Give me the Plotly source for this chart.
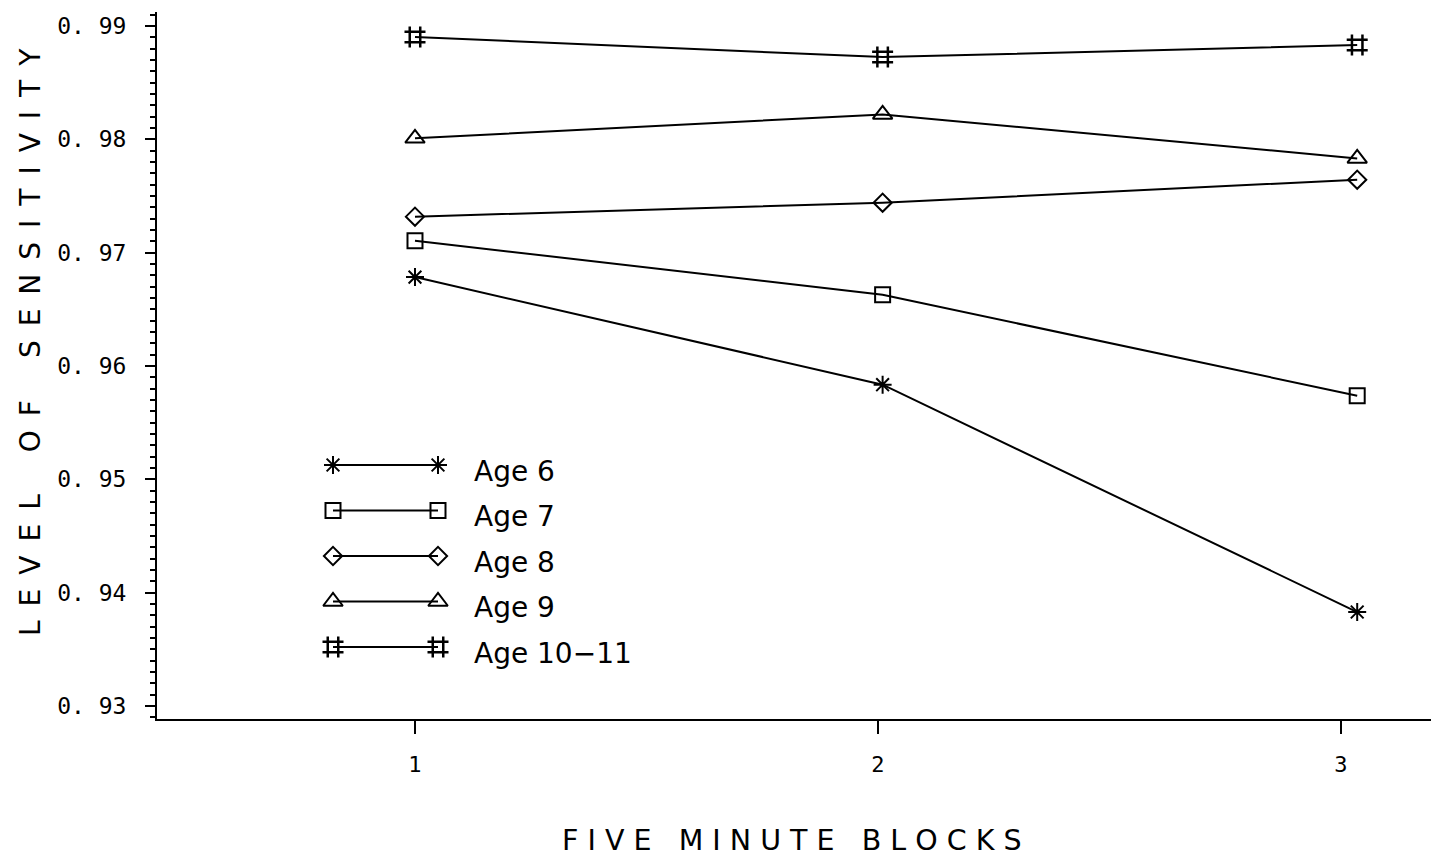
import plotly.graph_objects as go

# ---- data ----
blocks = [1, 2, 3]                      # tick positions / labels
block_pos = [1.0, 2.01, 3.035]          # where the points sit on the x scale
series_names = ["Age 6", "Age 7", "Age 8", "Age 9", "Age 10\u221211"]
age6 = [0.96785, 0.95835, 0.93829]
age7 = [0.97106, 0.96629, 0.95738]
age8 = [0.97318, 0.97441, 0.97644]
age9 = [0.98009, 0.98220, 0.97832]
age10_11 = [0.98903, 0.98726, 0.98832]
y_ticks = [0.93, 0.94, 0.95, 0.96, 0.97, 0.98, 0.99]
y_tick_text = ["0. 93", "0. 94", "0. 95", "0. 96", "0. 97", "0. 98", "0. 99"]

series = [age6, age7, age8, age9, age10_11]
symbols = ["asterisk-open", "square-open", "diamond-open", "triangle-up-open", "hash-open"]
sizes = [15, 15, 14, 17, 21]
widths = [2, 2, 2, 2, 2.5]

W, H = 1431, 856
L, R, T, B = 157, 0, 12, 137

fig = go.Figure()
for name, vals, sym, sz, lw in zip(series_names, series, symbols, sizes, widths):
    fig.add_trace(go.Scatter(
        x=block_pos, y=vals, mode="lines+markers", name=name,
        line=dict(color="black", width=2),
        marker=dict(symbol=sym, size=sz, color="black", line=dict(color="black", width=lw)),
        showlegend=False))

# hand-drawn legend on an overlay axis measured in pixels
leg_x0, leg_x1, leg_text_x = 333, 438, 472
leg_y0, leg_dy = 465, 45.5
for i, (name, sym, sz, lw) in enumerate(zip(series_names, symbols, sizes, widths)):
    yy = leg_y0 + i * leg_dy
    fig.add_trace(go.Scatter(
        x=[leg_x0, leg_x1], y=[yy, yy], mode="lines+markers", xaxis="x2", yaxis="y2",
        line=dict(color="black", width=2),
        marker=dict(symbol=sym, size=sz, color="black", line=dict(color="black", width=lw)),
        showlegend=False, hoverinfo="skip"))
    fig.add_annotation(x=leg_text_x, y=yy + 6, xref="x2", yref="y2", text=name,
                       showarrow=False, xanchor="left", yanchor="middle",
                       font=dict(family="DejaVu Sans", size=28, color="black"))

fig.update_layout(
    width=W, height=H, margin=dict(l=L, r=R, t=T, b=B),
    paper_bgcolor="white", plot_bgcolor="white", showlegend=False,
    xaxis=dict(range=[0.4428, 3.1944], tickvals=blocks, ticktext=[str(b) for b in blocks],
               showgrid=False, zeroline=False, showline=True, linecolor="black", linewidth=2,
               ticks="outside", ticklen=13, tickwidth=2, tickcolor="black",
               ticklabelstandoff=12,
               tickfont=dict(family="DejaVu Sans Mono", size=22, color="black")),
    yaxis=dict(range=[0.92885, 0.99124], tickvals=y_ticks, ticktext=y_tick_text,
               showgrid=False, zeroline=False, showline=True, linecolor="black", linewidth=2,
               ticks="outside", ticklen=10, tickwidth=2, tickcolor="black",
               ticklabelstandoff=14,
               tickfont=dict(family="DejaVu Sans Mono", size=23, color="black"),
               minor=dict(dtick=0.001, ticks="outside", ticklen=5, tickwidth=1.5,
                          tickcolor="black", showgrid=False)),
    xaxis2=dict(overlaying="x", range=[L, W - R], visible=False, fixedrange=True),
    yaxis2=dict(overlaying="y", range=[H - B, T], visible=False, fixedrange=True),
)

fig.add_annotation(text="F I V E \u00a0 M I N U T E \u00a0 B L O C K S", xref="paper", yref="paper",
                   x=(792 - L) / (W - L - R), y=-(840 - (H - B)) / (H - B - T),
                   showarrow=False, xanchor="center", yanchor="middle",
                   font=dict(family="DejaVu Sans", size=28.5, color="black"))
en = "\u2002"
ytitle = (en * 3).join(en.join(word) for word in ["LEVEL", "OF", "SENSITIVITY"])
fig.add_annotation(text=ytitle, xref="paper", yref="paper",
                   x=-(L - 30) / (W - L - R), y=((H - B) - 342) / (H - B - T),
                   showarrow=False, xanchor="center", yanchor="middle", textangle=-90,
                   font=dict(family="DejaVu Sans", size=28, color="black"))

fig.write_html("out.html")
